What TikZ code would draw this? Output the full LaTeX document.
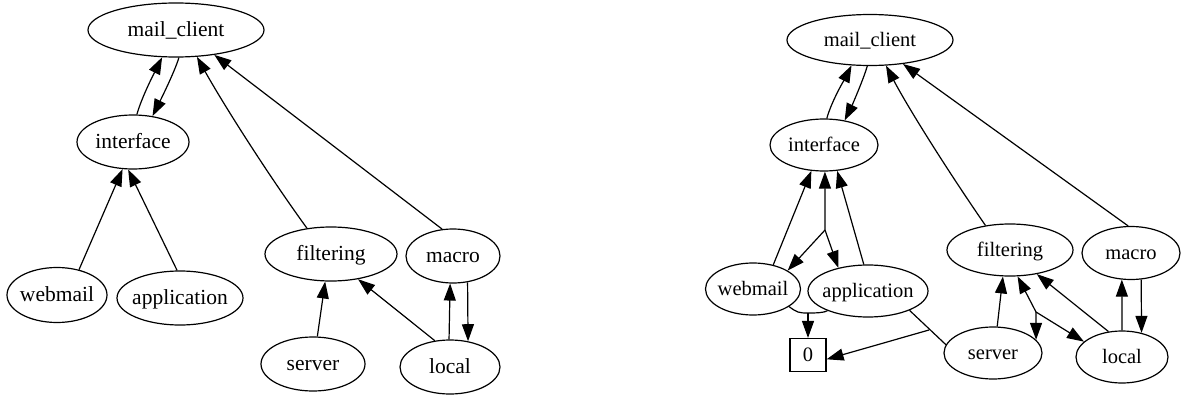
\documentclass[tikz,border=0pt]{standalone}
\usepackage{fontspec}
\setmainfont{Liberation Serif}
\usetikzlibrary{shapes.geometric,arrows.meta}
\newcommand\lbl[1]{\makebox[0pt]{\raisebox{-0.31em}[0pt][0pt]{#1}}}
\tikzset{
  gnode/.style={ellipse,draw,line width=1.2pt,inner sep=0pt},
  gbox/.style={rectangle,draw,line width=1.2pt,inner sep=0pt},
  lfont/.style={font=\fontsize{21.5}{24}\selectfont},
  rfont/.style={font=\fontsize{20.5}{23}\selectfont},
  edge/.style={line width=1.2pt,-{Triangle[length=17pt,width=12pt]}},
  plain/.style={line width=1.2pt},
}
\begin{document}
\begin{tikzpicture}[x=1pt,y=-1pt]
\useasboundingbox (0,0) rectangle (1181,396);
% ---------------- left graph ----------------
\begin{scope}[every node/.append style={lfont}]
\node[gnode,minimum width=176pt,minimum height=54pt] (mcL) at (176,30) {\lbl{mail\_client}};
\node[gnode,minimum width=112pt,minimum height=54pt] (ifL) at (133,142) {\lbl{interface}};
\node[gnode,minimum width=100pt,minimum height=55pt] (wmL) at (57,295) {\lbl{webmail}};
\node[gnode,minimum width=126pt,minimum height=54pt] (apL) at (180,298) {\lbl{application}};
\node[gnode,minimum width=132pt,minimum height=54pt] (fiL) at (331,254) {\lbl{filtering}};
\node[gnode,minimum width=94pt,minimum height=54pt] (maL) at (453,256) {\lbl{macro}};
\node[gnode,minimum width=104pt,minimum height=54pt] (seL) at (313,364) {\lbl{server}};
\node[gnode,minimum width=100pt,minimum height=54pt] (loL) at (450,367) {\lbl{local}};
\end{scope}
\draw[edge] (ifL.82) .. controls +(5,-18) and +(-6,12) .. (mcL.243);
\draw[edge] (mcL.276) .. controls +(-4,14) and +(6,-12) .. (ifL.53.5);
\draw[edge] (wmL.49.6) -- (ifL.249);
\draw[edge] (apL.96) -- (ifL.260);
\draw[edge] (fiL.133) .. controls +(-40,-55) and +(25,45) .. (mcL.308);
\draw[edge] (maL.112) -- (mcL.327);
\draw[edge] (seL.81.6) -- (fiL.258);
\draw[edge] (loL.120) -- (fiL.317);
\draw[edge] (loL.92) -- (maL.264);
\draw[edge] (maL.299) -- (loL.55);
% ---------------- right graph ----------------
\begin{scope}[every node/.append style={rfont}]
\node[gnode,minimum width=166pt,minimum height=51pt] (mcR) at (870,40) {\lbl{mail\_client}};
\node[gnode,minimum width=108pt,minimum height=52pt] (ifR) at (824,145) {\lbl{interface}};
\node[gnode,minimum width=95pt,minimum height=52pt] (wmR) at (753,289) {\lbl{webmail}};
\node[gnode,minimum width=120pt,minimum height=52pt] (apR) at (868,291) {\lbl{application}};
\node[gbox,minimum width=36pt,minimum height=33pt] (zero) at (808,355) {\lbl{0}};
\node[gnode,minimum width=126pt,minimum height=52pt] (fiR) at (1010,250) {\lbl{filtering}};
\node[gnode,minimum width=98pt,minimum height=53pt] (maR) at (1131,253) {\lbl{macro}};
\node[gnode,minimum width=98pt,minimum height=52pt] (seR) at (993,353) {\lbl{server}};
\node[gnode,minimum width=92pt,minimum height=52pt] (loR) at (1122,357) {\lbl{local}};
\end{scope}
\coordinate (J1) at (825,230);
\coordinate (J2) at (808,313);
\coordinate (J3) at (929,330);
\coordinate (J4) at (1036,312);
\draw[edge] (ifR.84) .. controls +(5,-18) and +(-6,12) .. (mcR.234);
\draw[edge] (mcR.264) .. controls +(-4,14) and +(6,-12) .. (ifR.50);
\draw[edge] (wmR.50) -- (ifR.244);
\draw[edge] (J1) -- (ifR.272);
\draw[edge] (J1) -- (wmR.28.7);
\draw[edge] (J1) -- (apR.142.8);
\draw[edge] (apR.99) -- (ifR.297.5);
\draw[plain] (wmR.334) .. controls +(8,6) and +(-9,0) .. (J2) .. controls +(9,0) and +(-4,2) .. (apR.206);
\draw[edge] (J2) -- (zero.north);
\draw[plain] (apR.335) -- (seR.170);
\draw[edge] (J3) -- (zero.-13);
\draw[edge] (fiR.135) .. controls +(-38,-55) and +(22,42) .. (mcR.302);
\draw[edge] (maR.96.6) -- (mcR.324.5);
\draw[edge] (seR.81) -- (fiR.255.5);
\draw[edge] (J4) -- (fiR.286);
\draw[edge] (J4) -- (seR.17);
\draw[edge] (J4) -- (loR.158);
\draw[edge] (loR.118) -- (fiR.318);
\draw[edge] (loR.90) -- (maR.251);
\draw[edge] (maR.291) -- (loR.51.6);
\end{tikzpicture}
\end{document}
